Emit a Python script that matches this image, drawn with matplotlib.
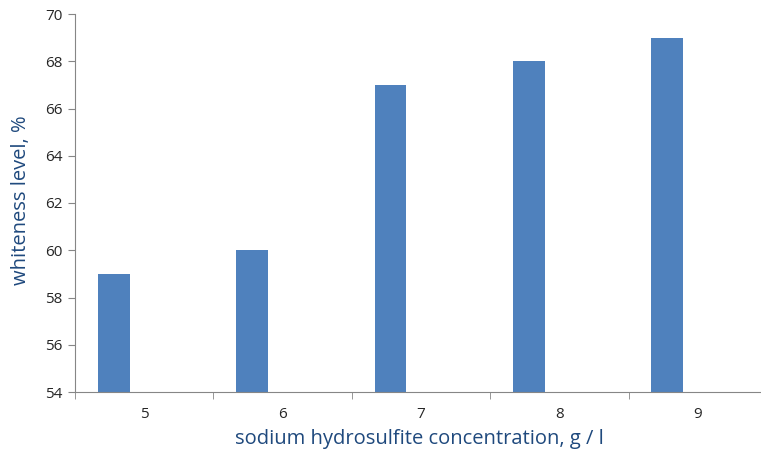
import matplotlib
matplotlib.use("Agg")
from matplotlib import pyplot as plt
import numpy as np

# data
categories = ["5", "6", "7", "8", "9"]
whiteness = [59, 60, 67, 68, 69]

BAR_COLOR = "#4F81BD"
AXIS_COLOR = "#868686"
TITLE_COLOR = "#1F497D"
TEXT_COLOR = "#262626"

plt.rcParams["font.family"] = ["Open Sans", "DejaVu Sans"]

fig = plt.figure(figsize=(7.61, 4.51), dpi=100)
# axes in pixel coordinates: left 75, right 767, top 14, bottom 392
W, H = 761, 451
L, R, T, B = 75, 767, 14, 392
ax = fig.add_axes([L / W, (H - B) / H, (R - L) / W, (B - T) / H])

x = np.arange(len(categories))
ax.bar(x - 0.22, whiteness, width=0.23, color=BAR_COLOR, zorder=2)

ax.set_ylim(54, 70)
ax.set_yticks(range(54, 71, 2))
ax.set_xlim(-0.5, len(categories) - 0.5)

# category labels at centres, ticks at category boundaries
ax.set_xticks(x)
ax.set_xticklabels(categories)
ax.set_xticks(np.arange(-0.5, len(categories) + 0.5, 1), minor=True)
ax.tick_params(axis="x", which="major", length=0, pad=11, labelsize=11,
               labelcolor=TEXT_COLOR)
ax.tick_params(axis="x", which="minor", length=5, color=AXIS_COLOR)
ax.tick_params(axis="y", length=5, color=AXIS_COLOR, labelsize=11, pad=4,
               labelcolor=TEXT_COLOR)

for side in ["top", "right"]:
    ax.spines[side].set_visible(False)
for side in ["left", "bottom"]:
    ax.spines[side].set_color(AXIS_COLOR)

ax.set_ylabel("whiteness level, %", fontsize=14.5, color=TITLE_COLOR, va="center")
ax.yaxis.set_label_coords((21 - L) / (R - L), (B - 200) / (B - T))
ax.set_xlabel("sodium hydrosulfite concentration, g / l", fontsize=14.5,
              color=TITLE_COLOR, va="center")
ax.xaxis.set_label_coords((419 - L) / (R - L), -(439 - B) / (B - T))

fig.savefig("out.png", dpi=100)
